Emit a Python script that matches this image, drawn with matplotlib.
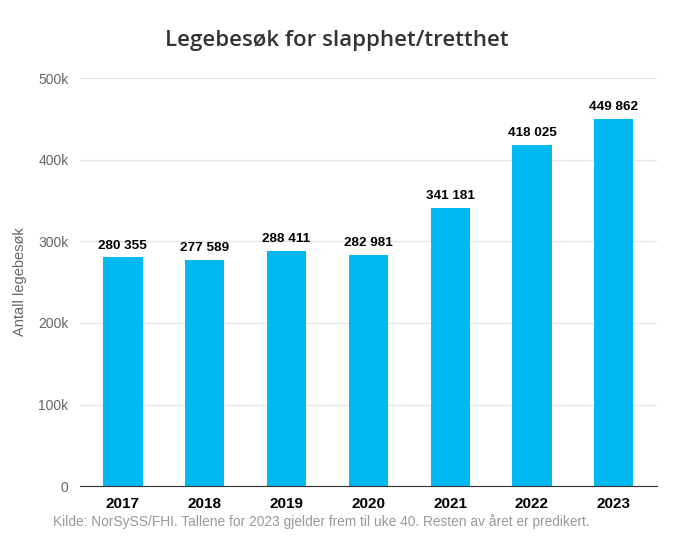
import matplotlib
matplotlib.use('Agg')
import matplotlib.pyplot as plt
from matplotlib.ticker import FuncFormatter

years = ['2017', '2018', '2019', '2020', '2021', '2022', '2023']
visits = [280355, 277589, 288411, 282981, 341181, 418025, 449862]

fig = plt.figure(figsize=(6.74, 5.42), dpi=100)
ax = fig.add_axes([0.118, 0.103, 0.857, 0.753])

ax.bar(years, visits, width=0.48, color='#00b9f1', zorder=2)
for i, v in enumerate(visits):
    ax.text(i, v + 7000, f'{v:,}'.replace(',', ' '), ha='center', va='bottom',
            fontsize=9.7, fontweight='bold', color='black', family='Liberation Sans')

ax.set_ylim(0, 500000)
ax.set_yticks(range(0, 500001, 100000))
ax.yaxis.set_major_formatter(FuncFormatter(lambda v, p: '0' if v == 0 else f'{int(v / 1000)}k'))
ax.grid(axis='y', color='#e6e6e6', linewidth=1, zorder=0)
ax.set_xlim(-0.53, 6.53)

for s in ['top', 'right', 'left']:
    ax.spines[s].set_visible(False)
ax.spines['bottom'].set_color('#333333')
ax.tick_params(axis='y', length=0, labelsize=10, labelcolor='#666666', pad=8)
ax.tick_params(axis='x', length=0, pad=8)
for lab in ax.get_yticklabels():
    lab.set_family('Liberation Sans')
for lab in ax.get_xticklabels():
    lab.set_family('Liberation Sans')
    lab.set_fontweight('bold')
    lab.set_fontsize(11)
    lab.set_color('black')

ax.set_ylabel('Antall legebesøk', fontsize=10.5, color='#666666', family='Liberation Sans', labelpad=8)

fig.text(0.5, 0.925, 'Legebesøk for slapphet/tretthet', ha='center', va='center',
         fontsize=16, color='#333333', family='Open Sans', fontweight='semibold')
fig.text(0.078, 0.038, 'Kilde: NorSySS/FHI. Tallene for 2023 gjelder frem til uke 40. Resten av året er predikert.',
         ha='left', va='center', fontsize=9.9, color='#999999', family='Liberation Sans')

fig.savefig('out.png', dpi=100)
